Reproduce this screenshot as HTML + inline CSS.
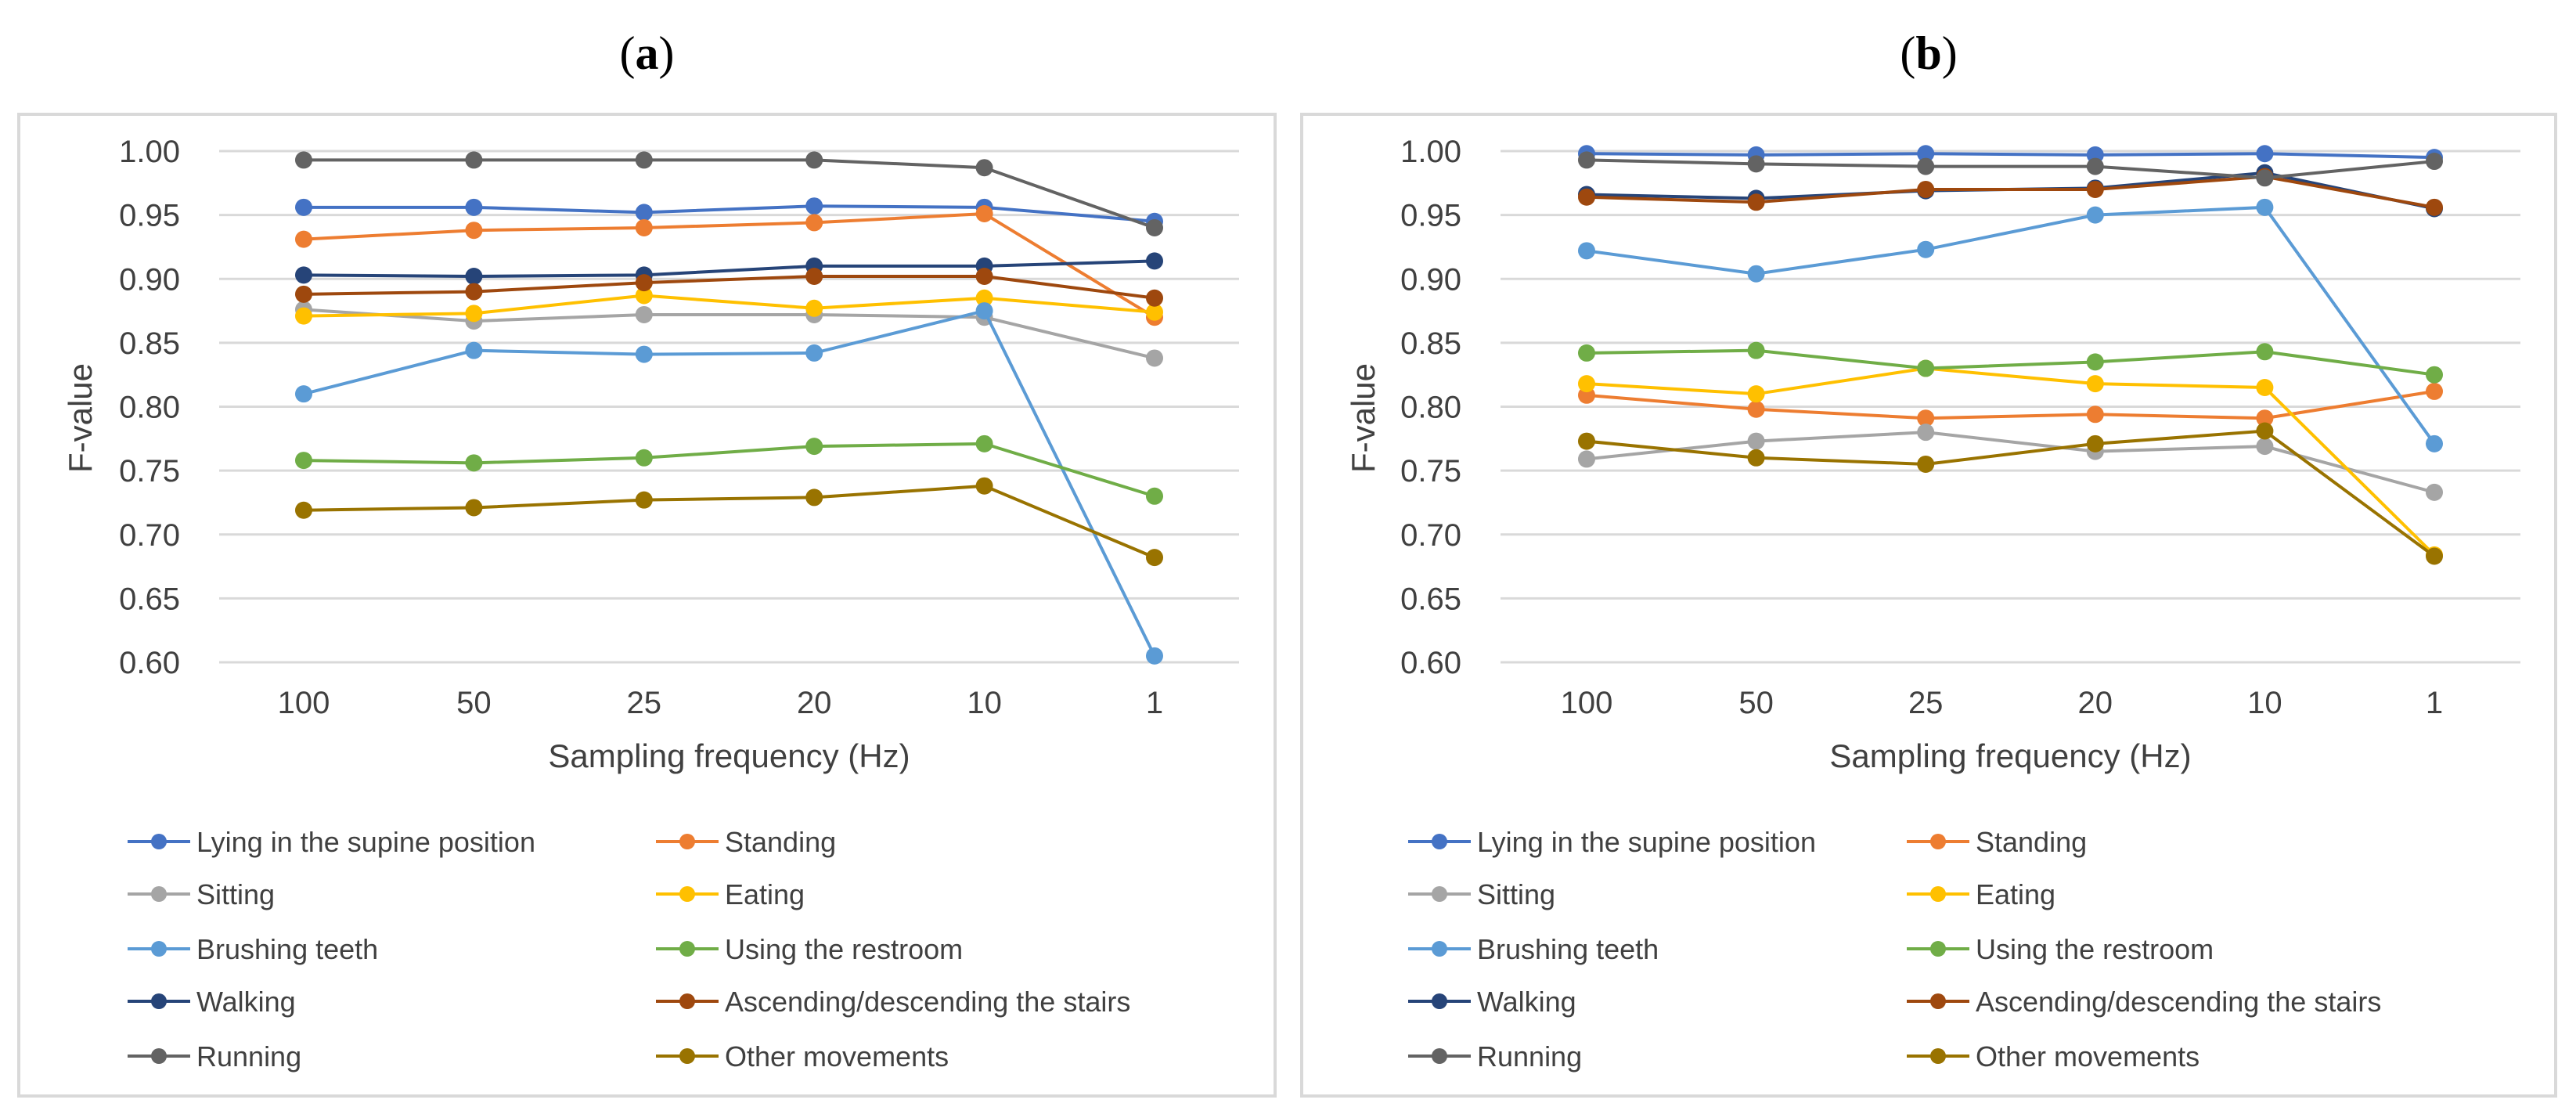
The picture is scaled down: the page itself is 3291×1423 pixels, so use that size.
<!DOCTYPE html>
<html><head><meta charset="utf-8"><style>
html,body{margin:0;padding:0;background:#fff;}
svg{display:block;font-family:"Liberation Sans",Arial,sans-serif;}
</style></head><body>
<svg id="fig" width="3291" height="1423" viewBox="0 0 3291 1423" xmlns="http://www.w3.org/2000/svg"></svg>
<script>
const categories = ["100","50","25","20","10","1"];
const yTicks = [0.60,0.65,0.70,0.75,0.80,0.85,0.90,0.95,1.00];
const seriesNames = ["Lying in the supine position","Standing","Sitting","Eating","Brushing teeth","Using the restroom","Walking","Ascending/descending the stairs","Running","Other movements"];
const seriesColors = ["#4472C4","#ED7D31","#A5A5A5","#FFC000","#5B9BD5","#70AD47","#264478","#9E480E","#636363","#997300"];
const aLying=[.956,.956,.952,.957,.956,.945];
const aStanding=[.931,.938,.940,.944,.951,.870];
const aSitting=[.876,.867,.872,.872,.870,.838];
const aEating=[.871,.873,.887,.877,.885,.874];
const aBrushing=[.810,.844,.841,.842,.875,.605];
const aRestroom=[.758,.756,.760,.769,.771,.730];
const aWalking=[.903,.902,.903,.910,.910,.914];
const aStairs=[.888,.890,.897,.902,.902,.885];
const aRunning=[.993,.993,.993,.993,.987,.940];
const aOther=[.719,.721,.727,.729,.738,.682];
const bLying=[.998,.997,.998,.997,.998,.995];
const bStanding=[.809,.798,.791,.794,.791,.812];
const bSitting=[.759,.773,.780,.765,.769,.733];
const bEating=[.818,.810,.830,.818,.815,.684];
const bBrushing=[.922,.904,.923,.950,.956,.771];
const bRestroom=[.842,.844,.830,.835,.843,.825];
const bWalking=[.966,.963,.969,.971,.983,.955];
const bStairs=[.964,.960,.970,.970,.980,.956];
const bRunning=[.993,.990,.988,.988,.979,.992];
const bOther=[.773,.760,.755,.771,.781,.683];

const NS="http://www.w3.org/2000/svg";
const svg=document.getElementById('fig');
function mk(tag,attrs,parent){const e=document.createElementNS(NS,tag);for(const k in attrs)e.setAttribute(k,attrs[k]);(parent||svg).appendChild(e);return e;}
const TXT='#404040';
const panels=[
 {id:'a',title:'a',box:[24,146,1629,1400],gx0:280,gx1:1583,c0:388,c1:1475,tickR:230,fx:103,leg1:163,leg2:838,
  data:[aLying,aStanding,aSitting,aEating,aBrushing,aRestroom,aWalking,aStairs,aRunning,aOther]},
 {id:'b',title:'b',box:[1663,146,3265,1400],gx0:1917,gx1:3220,c0:2027,c1:3110,tickR:1867,fx:1742,leg1:1799,leg2:2436,
  data:[bLying,bStanding,bSitting,bEating,bBrushing,bRestroom,bWalking,bStairs,bRunning,bOther]}
];
const yTop=193,yBot=846,vMin=0.60,vMax=1.00;
function yS(v){return yBot-(v-vMin)/(vMax-vMin)*(yBot-yTop);}

panels.forEach(p=>{
  const g=mk('g',{});
  
  
  const cx=(p.box[0]+p.box[2])/2;
  const t=mk('text',{x:cx,y:88,'text-anchor':'middle','font-size':60,'font-family':'"Liberation Serif",serif',fill:'#000'},g);
  
  
  t.innerHTML='(<tspan font-weight="bold">'+p.title+'</tspan>)';
  const box=mk('rect',{x:p.box[0],y:p.box[1],width:p.box[2]-p.box[0],height:p.box[3]-p.box[1],fill:'#fff',stroke:'#d9d9d9','stroke-width':4},g);
  
  
  const xS=i=>p.c0+i*(p.c1-p.c0)/(categories.length-1);
  yTicks.forEach(v=>{
    const l=mk('line',{x1:p.gx0,x2:p.gx1,y1:yS(v),y2:yS(v),stroke:'#d9d9d9','stroke-width':3},g);
    
    
    const tx=mk('text',{x:p.tickR,y:yS(v)+14,'text-anchor':'end','font-size':40,fill:TXT},g);
    
    
    tx.textContent=v.toFixed(2);
  });
  categories.forEach((c,i)=>{
    const tx=mk('text',{x:xS(i),y:911,'text-anchor':'middle','font-size':40,fill:TXT},g);
    
    
    tx.textContent=c;
  });
  const xt=mk('text',{x:(p.gx0+p.gx1)/2,y:980,'text-anchor':'middle','font-size':42,fill:TXT},g);
  
  
  xt.textContent='Sampling frequency (Hz)';
  const yt=mk('text',{x:p.fx,y:520,'text-anchor':'middle','font-size':42,fill:TXT,transform:'rotate(-90 '+(p.fx+14)+' 520)'},g);
  
  
  yt.textContent='F-value';
  p.data.forEach((arr,s)=>{
    const col=seriesColors[s];
    const sg=mk('g',{},g);
    
    
    const pl=mk('polyline',{points:arr.map((v,i)=>xS(i)+','+yS(v)).join(' '),fill:'none',stroke:col,'stroke-width':4},sg);
    
    
    arr.forEach((v,i)=>{
      const c=mk('circle',{cx:xS(i),cy:yS(v),r:11,fill:col},sg);
      
      
    });
  });
  const rows=[1075,1142,1212,1279,1349];
  seriesNames.forEach((n,s)=>{
    const col=seriesColors[s];
    const lx=(s%2===0)?p.leg1:p.leg2;
    const ly=rows[Math.floor(s/2)];
    const lg=mk('g',{},g);
    
    
    mk('line',{x1:lx,x2:lx+80,y1:ly,y2:ly,stroke:col,'stroke-width':4},lg);
    mk('circle',{cx:lx+40,cy:ly,r:10,fill:col},lg);
    const tx=mk('text',{x:lx+88,y:ly+13,'font-size':36,fill:TXT},lg);
    tx.textContent=n;
  });
});
</script>
</body></html>
